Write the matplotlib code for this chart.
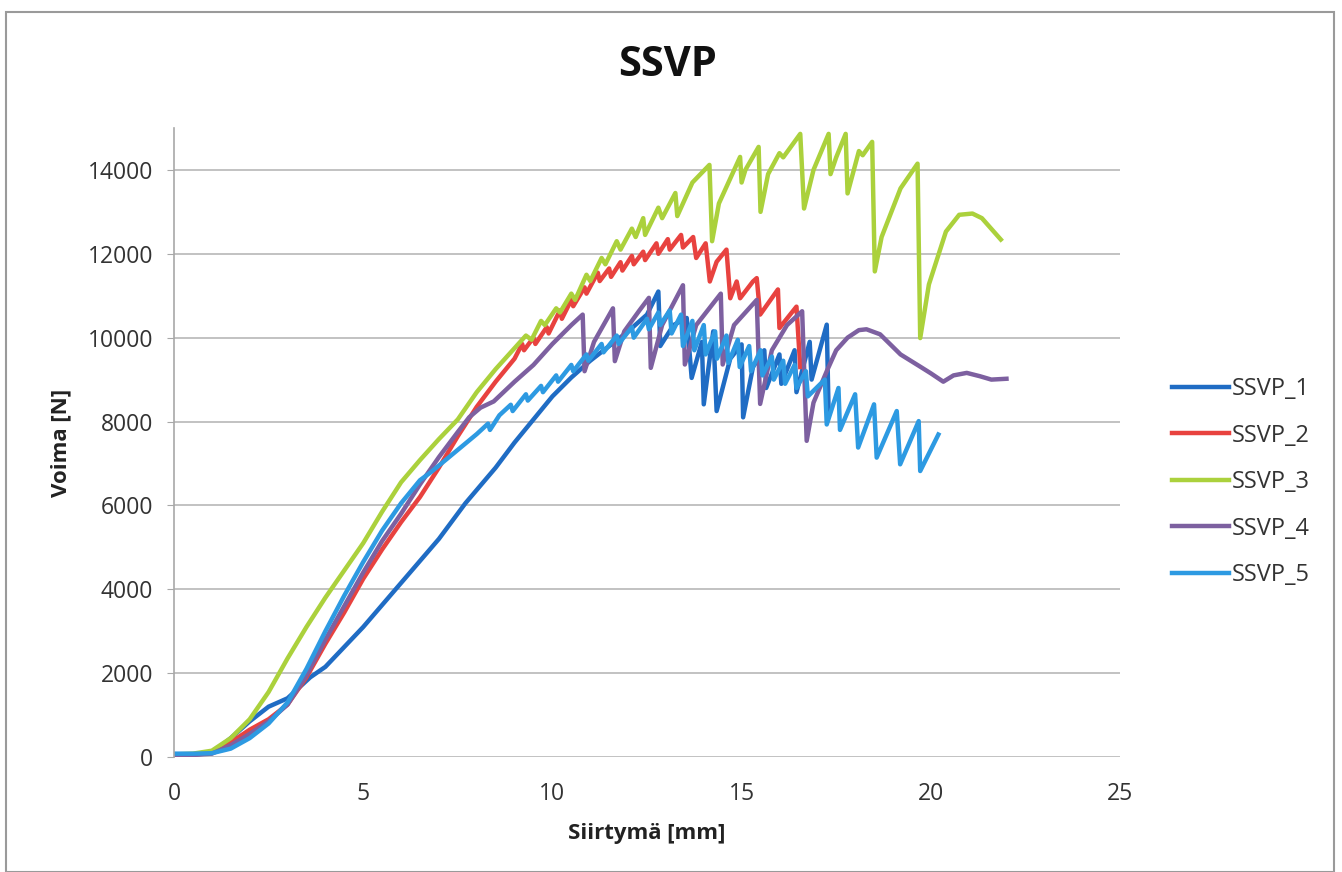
import matplotlib
matplotlib.use("Agg")
import matplotlib.pyplot as plt
from matplotlib.patches import Rectangle

plt.rcParams['font.family'] = ['Open Sans', 'DejaVu Sans']

title = "SSVP"
xlabel = "Siirtymä [mm]"
ylabel = "Voima [N]"
x_ticks = [0, 5, 10, 15, 20, 25]
y_ticks = [0, 2000, 4000, 6000, 8000, 10000, 12000, 14000]
series_names = ["SSVP_1", "SSVP_2", "SSVP_3", "SSVP_4", "SSVP_5"]
series_colors = ["#1f6cc4", "#e8423f", "#abd13c", "#7d60a0", "#2d9ae2"]

ssvp1_x = [0, 0.5, 1.0, 1.5, 2.0, 2.5, 3.0, 3.3, 3.6, 4.0, 5.0, 6.0, 7.0, 7.7, 8.5, 9.0, 9.5, 10.0,
           10.5, 11.0, 11.5, 12.0, 12.5, 12.8, 12.85, 13.2, 13.55, 13.68, 13.95, 14.0, 14.25, 14.34,
           14.7, 15.0, 15.04, 15.3, 15.6, 15.65, 16.0, 16.05, 16.4, 16.45, 16.8, 16.85, 17.25, 17.3]
ssvp1_y = [60, 60, 90, 450, 850, 1200, 1400, 1650, 1900, 2150, 3100, 4150, 5200, 6050, 6900, 7500, 8050, 8600,
           9050, 9450, 9800, 10150, 10550, 11100, 9800, 10300, 10470, 9040, 9900, 8410, 10150, 8250,
           9500, 9840, 8100, 9300, 9700, 8800, 9600, 8900, 9700, 8700, 9900, 9000, 10310, 8200]

ssvp2_x = [0, 0.5, 1.0, 1.5, 2.0, 2.5, 3.0, 3.5, 4.0, 4.5, 5.0, 5.5, 6.0, 6.5, 7.0, 7.5, 8.0, 8.5, 9.0,
           9.2, 9.25, 9.5, 9.55, 9.85, 9.9, 10.2, 10.25, 10.5, 10.55, 10.85, 10.9, 11.2, 11.25, 11.5, 11.55,
           11.8, 11.85, 12.1, 12.15, 12.4, 12.45, 12.75, 12.8, 13.05, 13.1, 13.4, 13.45, 13.72, 13.8, 14.05,
           14.16, 14.34, 14.6, 14.7, 14.87, 14.96, 15.3, 15.4, 15.49, 15.96, 16.0, 16.45, 16.55]
ssvp2_y = [50, 60, 100, 350, 650, 900, 1250, 1900, 2700, 3450, 4250, 4950, 5600, 6200, 6900, 7650, 8350, 8950, 9500,
           9850, 9700, 10000, 9850, 10250, 10100, 10650, 10450, 10900, 10750, 11200, 11050, 11550, 11350, 11650, 11450,
           11800, 11600, 11950, 11750, 12050, 11850, 12250, 12000, 12350, 12100, 12450, 12150, 12400, 11900, 12250,
           11340, 11810, 12100, 10940, 11340, 10940, 11340, 11420, 10550, 11150, 10230, 10740, 9300]

ssvp3_x = [0, 0.5, 1.0, 1.5, 2.0, 2.5, 3.0, 3.5, 4.0, 4.5, 5.0, 5.5, 6.0, 6.5, 7.0, 7.5, 8.0, 8.5, 9.0,
           9.3, 9.45, 9.7, 9.8, 10.1, 10.2, 10.5, 10.6, 10.9, 11.0, 11.3, 11.4, 11.7, 11.8, 12.1, 12.2,
           12.4, 12.45, 12.8, 12.9, 13.25, 13.3, 13.7, 14.15, 14.22, 14.4, 14.96, 15.0, 15.1, 15.45, 15.5,
           15.7, 16.0, 16.1, 16.55, 16.65, 16.9, 17.3, 17.35, 17.5, 17.75, 17.8, 18.1, 18.2, 18.45, 18.52,
           18.7, 19.2, 19.65, 19.72, 19.95, 20.4, 20.75, 21.1, 21.35, 21.85]
ssvp3_y = [60, 80, 150, 450, 900, 1550, 2350, 3100, 3800, 4450, 5100, 5850, 6550, 7080, 7580, 8050, 8700, 9250, 9750,
           10050, 9950, 10400, 10300, 10700, 10600, 11050, 10900, 11500, 11350, 11900, 11750, 12300, 12100, 12600, 12400,
           12850, 12450, 13100, 12850, 13450, 12900, 13700, 14120, 12300, 13200, 14310, 13700, 14000, 14550, 13000,
           13900, 14400, 14300, 14860, 13080, 14000, 14860, 13900, 14300, 14860, 13440, 14450, 14350, 14670, 11580,
           12400, 13560, 14150, 9990, 11270, 12530, 12930, 12960, 12850, 12340]

ssvp4_x = [0, 0.5, 1.0, 1.5, 2.0, 2.5, 3.0, 3.5, 4.0, 4.5, 5.0, 5.5, 6.0, 6.5, 7.0, 7.5, 7.8, 8.1, 8.45,
           9.0, 9.5, 10.0, 10.5, 10.8, 10.85, 11.1, 11.6, 11.65, 11.9, 12.3, 12.55, 12.6, 12.9, 13.45, 13.5,
           13.8, 14.45, 14.5, 14.8, 15.4, 15.49, 15.8, 16.2, 16.6, 16.72, 16.9, 17.25, 17.5, 17.8, 18.1, 18.3,
           18.66, 19.2, 19.7, 20.0, 20.33, 20.6, 20.95, 21.3, 21.6, 22.0]
ssvp4_y = [50, 50, 80, 280, 550, 850, 1250, 1950, 2800, 3600, 4400, 5150, 5800, 6500, 7150, 7750, 8100, 8330, 8480,
           8950, 9350, 9850, 10300, 10550, 9200, 9900, 10700, 9440, 10150, 10650, 10950, 9280, 10300, 11250, 9360,
           10300, 11050, 9360, 10300, 10900, 8420, 9700, 10300, 10630, 7540, 8450, 9200, 9700, 10000, 10180, 10200,
           10080, 9600, 9320, 9150, 8950, 9100, 9160, 9080, 9000, 9020]

ssvp5_x = [0, 0.5, 1.0, 1.5, 2.0, 2.5, 3.0, 3.5, 4.0, 4.5, 5.0, 5.5, 6.0, 6.5, 6.8, 7.2, 7.6, 8.0, 8.3,
           8.35, 8.6, 8.9, 8.95, 9.3, 9.35, 9.7, 9.75, 10.1, 10.15, 10.5, 10.55, 10.9, 10.95, 11.3, 11.35,
           11.7, 11.75, 12.1, 12.15, 12.5, 12.55, 12.8, 12.85, 13.1, 13.15, 13.4, 13.45, 13.7, 13.75, 14.0,
           14.05, 14.3, 14.35, 14.6, 14.65, 14.9, 14.95, 15.2, 15.25, 15.5, 15.55, 15.8, 15.85, 16.1, 16.15,
           16.4, 16.45, 16.7, 16.75, 17.2, 17.25, 17.56, 17.6, 18.0, 18.08, 18.5, 18.57, 19.1, 19.19, 19.68,
           19.72, 20.2]
ssvp5_y = [80, 80, 90, 200, 450, 800, 1300, 2100, 3000, 3850, 4650, 5400, 6050, 6600, 6800, 7100, 7400, 7700, 7950,
           7800, 8150, 8400, 8250, 8650, 8500, 8850, 8700, 9100, 8950, 9350, 9200, 9600, 9450, 9850, 9650,
           10050, 9850, 10250, 10000, 10450, 10200, 10600, 10300, 10650, 10100, 10550, 9800, 10400, 9700, 10300,
           9600, 10150, 9500, 10050, 9400, 9950, 9300, 9800, 9200, 9700, 9100, 9550, 9000, 9450, 8900,
           9350, 8800, 9200, 8600, 9000, 7930, 8800, 7800, 8650, 7380, 8410, 7140, 8250, 6980, 8010,
           6820, 7690]

xs = [ssvp1_x, ssvp2_x, ssvp3_x, ssvp4_x, ssvp5_x]
ys = [ssvp1_y, ssvp2_y, ssvp3_y, ssvp4_y, ssvp5_y]

W, H = 1342, 872
fig = plt.figure(figsize=(W / 100, H / 100), dpi=100)
fig.patch.set_facecolor("white")
ax = fig.add_axes([174 / W, 1 - 757 / H, (1120 - 174) / W, (757 - 128) / H])

for x, y, name, c in zip(xs, ys, series_names, series_colors):
    ax.plot(x, y, color=c, lw=3.2, label=name, solid_joinstyle="round")

ax.set_xlim(0, 25)
ax.set_ylim(0, 15000)
ax.set_xticks(x_ticks)
ax.set_yticks(y_ticks)
ax.set_xticklabels([str(v) for v in x_ticks])
ax.set_yticklabels([str(v) for v in y_ticks])
ax.yaxis.grid(True, color="#bdbdbd", lw=1.3)
ax.set_axisbelow(True)
for s in ["top", "right", "bottom"]:
    ax.spines[s].set_visible(False)
ax.spines["left"].set_color("#a8a8a8")
ax.spines["left"].set_linewidth(1.2)
ax.tick_params(axis="y", length=5, color="#a8a8a8", pad=10, labelsize=16.5, labelcolor="#333333")
ax.tick_params(axis="x", length=0, pad=18, labelsize=16.5, labelcolor="#333333")

ax.set_xlabel(xlabel, fontsize=16, fontweight="bold", labelpad=12, color="#222222")
ax.set_ylabel(ylabel, fontsize=16, fontweight="bold", labelpad=12, color="#222222")
fig.text(668 / W, 1 - 65 / H, title, ha="center", va="center", fontsize=30, fontweight="bold", color="#111111")

leg = ax.legend(loc="center left", bbox_to_anchor=(1.045, 0.437), frameon=False, fontsize=17,
                handlelength=2.4, handletextpad=0.15, labelspacing=0.95, borderaxespad=0)
for t in leg.get_texts():
    t.set_color("#333333")

fig.add_artist(Rectangle((6 / W, 0.0), (1334 - 6) / W, 1 - 12 / H - 0.0, transform=fig.transFigure,
                         fill=False, edgecolor="#9a9a9a", lw=1.5))

fig.savefig("out.png", dpi=100)
